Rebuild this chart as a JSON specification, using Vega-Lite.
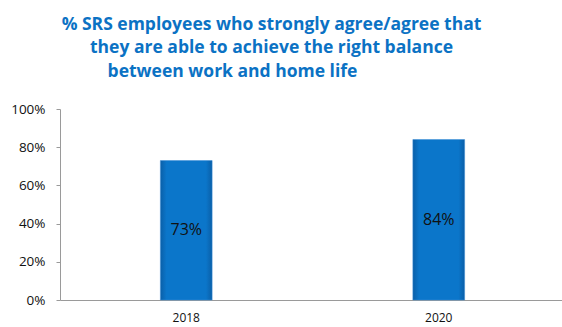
{
  "$schema": "https://vega.github.io/schema/vega-lite/v6.json",
  "autosize": "none",
  "width": 505,
  "height": 191,
  "padding": {"left": 60, "top": 109, "right": 0, "bottom": 27},
  "background": "white",
  "title": {
    "text": ["% SRS employees who strongly agree/agree that", "they are able to achieve the right balance", "between work and home life\u2800\u2800\u2800\u2800\u2800\u2800"],
    "anchor": "middle",
    "dx": -41,
    "offset": 22,
    "font": "Open Sans",
    "fontSize": 17.5,
    "fontWeight": "bold",
    "color": "#0B72C4",
    "lineHeight": 23.5
  },
  "config": {"view": {"stroke": null}},
  "data": {"values": [
    {"year": "2018", "value": 0.73, "label": "73%"},
    {"year": "2020", "value": 0.84, "label": "84%"}
  ]},
  "encoding": {
    "x": {"field": "year", "type": "nominal", "scale": {"paddingInner": 0.795, "paddingOuter": 0.3975},
      "axis": {"title": null, "labelAngle": 0, "ticks": false, "domainColor": "#9a9a9a", "labelFont": "Open Sans", "labelFontSize": 12, "labelColor": "#111", "labelPadding": 12}}
  },
  "layer": [
    {
      "mark": {"type": "bar", "color": {"gradient": "linear", "x1": 0, "x2": 1, "y1": 0, "y2": 0, "stops": [{"offset": 0, "color": "#0A5FA8"}, {"offset": 0.12, "color": "#0B76CA"}, {"offset": 0.88, "color": "#0B76CA"}, {"offset": 1, "color": "#0A5FA8"}]}, "stroke": "#3A8DD6", "strokeWidth": 0.5},
      "encoding": {
        "y": {"field": "value", "type": "quantitative", "scale": {"domain": [0, 1]},
          "axis": {"title": null, "format": ".0%", "values": [0, 0.2, 0.4, 0.6, 0.8, 1], "labelOverlap": false, "grid": false, "domainColor": "#9a9a9a", "tickColor": "#9a9a9a", "tickSize": 4, "labelFont": "Open Sans", "labelFontSize": 13.5, "labelColor": "#111", "labelPadding": 11}}
      }
    },
    {
      "mark": {"type": "text", "font": "Open Sans", "fontSize": 16, "color": "#111"},
      "transform": [{"calculate": "datum.value / 2", "as": "mid"}],
      "encoding": {
        "y": {"field": "mid", "type": "quantitative", "scale": {"domain": [0, 1]},
          "axis": {"title": null, "format": ".0%", "values": [0, 0.2, 0.4, 0.6, 0.8, 1], "labelOverlap": false, "grid": false, "domainColor": "#9a9a9a", "tickColor": "#9a9a9a", "tickSize": 4, "labelFont": "Open Sans", "labelFontSize": 13.5, "labelColor": "#111", "labelPadding": 11}},
        "text": {"field": "label"}
      }
    }
  ]
}
